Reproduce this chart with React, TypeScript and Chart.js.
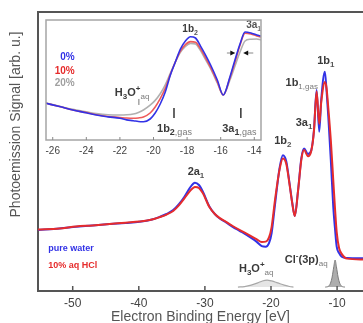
import React, { useEffect, useRef } from 'react';
import { Chart, registerables } from 'chart.js';

Chart.register(...registerables);

const FONT = '"Liberation Sans", Arial, Helvetica, sans-serif';
const BLUE = '#3232e6';
const RED = '#e62c2c';
const GRAY = '#a0a0a0';
const INK = '#3a3a3a';
const SOFT = '#7a7a7a';

// ---------- main spectrum ----------
const mainEnergy = [-55.25, -52, -49.5, -47, -44.4, -42, -39.9, -38, -36.8, -35.8, -34.8, -33.9, -33.1, -32.3, -31.5, -30.9, -30.3, -29.3, -28.5, -27.8, -26.8, -25.8, -24.7, -23.7, -22.2, -21.4, -20.8, -20.3, -19.9, -19.4, -18.7, -18.2, -17.7, -17.2, -16.8, -16.4, -15.9, -15.4, -15.0, -14.4, -13.9, -13.5, -13.1, -12.7, -12.4, -11.85, -11.6, -11.33, -10.95, -10.58, -10.3, -10.06, -9.7, -9.3, -8.5, -6.08];
const pureWater = [21.9, 22.4, 23.0, 23.5, 24.0, 24.4, 24.8, 25.6, 26.6, 27.6, 29.0, 31.2, 33.8, 36.9, 38.8, 38.0, 35.6, 30.2, 27.6, 26.1, 24.6, 23.0, 21.5, 20.1, 17.7, 16.1, 15.9, 17.2, 20.8, 30.8, 44.1, 48.7, 46.6, 38.7, 31.9, 26.9, 36.2, 47.7, 51.1, 49.1, 50.5, 57.7, 72.0, 57.1, 68.5, 78.6, 72.0, 62.5, 47.0, 30.2, 21.9, 15.9, 13.6, 12.3, 11.8, 11.7];
const hcl10 = [22.0, 22.4, 23.1, 23.5, 24.0, 24.5, 24.9, 25.6, 26.5, 27.4, 28.7, 30.8, 33.2, 35.7, 37.3, 36.9, 35.0, 30.0, 27.6, 26.2, 24.8, 23.3, 21.8, 20.6, 18.6, 17.6, 17.7, 19.2, 23.0, 32.5, 43.6, 47.5, 45.7, 38.3, 31.7, 26.9, 36.0, 47.2, 50.5, 48.3, 50.3, 57.3, 71.5, 59.9, 67.7, 74.9, 72.8, 65.6, 54.1, 39.8, 29.0, 21.1, 15.4, 13.3, 11.6, 11.3];
const h3oEnergy = [-25, -24, -23, -22, -21.3, -20.6, -19.9, -19, -18, -17.2, -16.6];
const h3oSignal = [1.4, 1.6, 2.1, 2.9, 3.6, 3.9, 3.6, 2.9, 2.1, 1.6, 1.4];
const clEnergy = [-11.8, -11.3, -11.0, -10.75, -10.5, -10.3, -10.1, -9.85, -9.6, -9.3, -8.8];
const clSignal = [1.4, 1.7, 2.8, 5.0, 8.7, 11.1, 8.7, 5.0, 2.8, 1.7, 1.4];
const peakBase = 1.4;
const mainTicks = [-50, -40, -30, -20, -10];
const mainRange = [-55.25, -6.08];

// ---------- inset ----------
const insetEnergy = [-26.4, -25.6, -24.8, -24.0, -23.4, -22.7, -22.0, -21.6, -21.2, -20.9, -20.6, -20.2, -19.9, -19.6, -19.3, -19.0, -18.7, -18.4, -18.1, -17.8, -17.5, -17.2, -16.9, -16.6, -16.2, -15.85, -15.45, -15.15, -14.85, -14.55, -14.2, -13.85, -13.6];
const inset0 = [30.6, 27.9, 25.0, 22.7, 20.8, 19.3, 18.1, 16.8, 16.1, 15.4, 15.25, 17.5, 22.5, 30.0, 40.0, 54.0, 65.0, 75.8, 82.5, 86.1, 85.0, 78.3, 70.8, 62.5, 50.0, 37.5, 52.5, 66.7, 80.0, 90.0, 89.2, 87.5, 86.7];
const inset10 = [30.6, 27.9, 25.0, 22.8, 21.0, 19.6, 18.8, 18.3, 18.1, 18.4, 19.2, 22.5, 27.5, 34.5, 43.0, 54.5, 65.0, 74.0, 79.5, 82.0, 81.5, 76.0, 68.5, 60.5, 48.5, 37.5, 51.7, 65.0, 79.0, 89.0, 88.3, 86.7, 85.8];
const inset20 = [30.8, 28.2, 25.5, 23.5, 22.0, 21.0, 20.8, 21.0, 21.7, 23.0, 25.0, 29.0, 33.0, 38.5, 46.0, 55.5, 65.0, 73.0, 78.0, 80.5, 80.0, 74.5, 67.0, 59.5, 47.5, 37.5, 50.0, 61.7, 73.3, 82.5, 84.0, 84.2, 83.3];
const insetTicks = [-26, -24, -22, -20, -18, -16, -14];
const insetRange = [-26.4, -13.6];
const gasLines = [-18.78, -14.8];

type Seg = { t: string; size: number; bold?: boolean; color?: string; dy?: number };
type Note = { e: number; v: number; align: 'left' | 'center' | 'right'; segs: Seg[] };

const B = (t: string, size = 11, color = INK): Seg => ({ t, size, bold: true, color });
const SUB = (t: string, color = '#555', size = 8, bold = true): Seg => ({ t, size, bold, color, dy: 3 });
const SUP = (t: string, color = INK): Seg => ({ t, size: 8, bold: true, color, dy: -5 });

const mainNotes: Note[] = [
  { e: -31.35, v: 41.6, align: 'center', segs: [B('2a'), SUB('1')] },
  { e: -18.2, v: 52.7, align: 'center', segs: [B('1b'), SUB('2')] },
  { e: -15.0, v: 59.2, align: 'center', segs: [B('3a'), SUB('1')] },
  { e: -12.9, v: 73.6, align: 'right', segs: [B('1b'), SUB('1,gas', SOFT, 8, false)] },
  { e: -11.7, v: 81.4, align: 'center', segs: [B('1b'), SUB('1')] },
  { e: -53.7, v: 14.3, align: 'left', segs: [{ t: 'pure water', size: 9, bold: true, color: BLUE }] },
  { e: -53.7, v: 8.2, align: 'left', segs: [{ t: '10% aq HCl', size: 9, bold: true, color: RED }] },
  { e: -24.85, v: 6.8, align: 'left', segs: [B('H'), SUB('3', INK), B('O'), SUP('+'), SUB('aq', SOFT, 8, false)] },
  { e: -17.9, v: 10.0, align: 'left', segs: [B('Cl'), SUP('-'), B('(3p)'), SUB('aq', SOFT, 8, false)] },
];

const insetNotes: Note[] = [
  { e: -17.82, v: 90.4, align: 'center', segs: [B('1b', 10), SUB('2', '#555', 7)] },
  { e: -24.69, v: 66.3, align: 'right', segs: [{ t: '0%', size: 10, bold: true, color: BLUE }] },
  { e: -24.69, v: 55.4, align: 'right', segs: [{ t: '10%', size: 10, bold: true, color: RED }] },
  { e: -24.69, v: 45.4, align: 'right', segs: [{ t: '20%', size: 10, bold: true, color: GRAY }] },
  { e: -22.3, v: 36.7, align: 'left', segs: [B('H'), SUB('3', INK), B('O'), SUP('+'), SUB('aq', SOFT, 8, false)] },
  { e: -19.79, v: 6.7, align: 'left', segs: [B('1b'), SUB('2', INK, 9), SUB(',gas', SOFT, 9, false)] },
  { e: -15.91, v: 6.7, align: 'left', segs: [B('3a'), SUB('1', INK, 9), SUB(',gas', SOFT, 9, false)] },
];
const insetClippedNote: Note = { e: -14.48, v: 93.3, align: 'left', segs: [B('3a', 10, '#555'), SUB('1', '#777', 7)] };

const pts = (xs: number[], ys: number[]) => xs.map((x, i) => ({ x, y: ys[i] }));

function drawRich(ctx: CanvasRenderingContext2D, x: number, y: number, segs: Seg[], align: string) {
  const fontOf = (s: Seg) => `${s.bold ? 'bold ' : ''}${s.size}px ${FONT}`;
  const widths = segs.map((s) => {
    ctx.font = fontOf(s);
    return ctx.measureText(s.t).width;
  });
  const total = widths.reduce((a, b) => a + b, 0);
  let cx = align === 'left' ? x : align === 'center' ? x - total / 2 : x - total;
  ctx.textAlign = 'left';
  ctx.textBaseline = 'alphabetic';
  segs.forEach((s, i) => {
    ctx.font = fontOf(s);
    ctx.fillStyle = s.color || INK;
    ctx.fillText(s.t, cx, y + (s.dy || 0));
    cx += widths[i];
  });
}

function drawNotes(chart: any, notes: Note[]) {
  const { ctx, scales } = chart;
  notes.forEach((n) => {
    drawRich(ctx, scales.x.getPixelForValue(n.e), scales.y.getPixelForValue(n.v), n.segs, n.align);
  });
}

const mainDecor = {
  id: 'mainDecor',
  afterDatasetsDraw(chart: any) {
    const ctx = chart.ctx;
    ctx.save();
    drawNotes(chart, mainNotes);
    ctx.restore();
  },
  afterDraw(chart: any) {
    const { ctx, chartArea: a, scales } = chart;
    ctx.save();
    ctx.strokeStyle = '#555';
    ctx.lineWidth = 2;
    ctx.beginPath();
    ctx.moveTo(a.left - 1, a.top);
    ctx.lineTo(a.right, a.top);
    ctx.stroke();
    ctx.lineWidth = 1.5;
    scales.x.ticks.forEach((t: any) => {
      const px = scales.x.getPixelForValue(t.value);
      ctx.beginPath();
      ctx.moveTo(px, a.bottom);
      ctx.lineTo(px, a.bottom - 5);
      ctx.stroke();
    });
    ctx.translate(16, a.top + 112.5);
    ctx.rotate(-Math.PI / 2);
    ctx.font = `14px ${FONT}`;
    ctx.fillStyle = '#555';
    ctx.textAlign = 'center';
    ctx.textBaseline = 'middle';
    ctx.fillText('Photoemission Signal [arb. u.]', 0, 0);
    ctx.restore();
  },
};

function arrow(ctx: CanvasRenderingContext2D, x1: number, x2: number, y: number) {
  const dir = Math.sign(x2 - x1);
  ctx.strokeStyle = '#888';
  ctx.lineWidth = 1;
  ctx.beginPath();
  ctx.moveTo(x1, y);
  ctx.lineTo(x2 - dir * 3, y);
  ctx.stroke();
  ctx.fillStyle = '#111';
  ctx.beginPath();
  ctx.moveTo(x2, y);
  ctx.lineTo(x2 - dir * 5, y - 2.5);
  ctx.lineTo(x2 - dir * 5, y + 2.5);
  ctx.closePath();
  ctx.fill();
}

const insetDecor = {
  id: 'insetDecor',
  beforeDraw(chart: any) {
    const { ctx, chartArea: a } = chart;
    ctx.save();
    ctx.fillStyle = '#fff';
    ctx.fillRect(a.left, a.top, a.right - a.left, a.bottom - a.top);
    ctx.restore();
  },
  afterDatasetsDraw(chart: any) {
    const { ctx, chartArea: a, scales } = chart;
    const X = (e: number) => scales.x.getPixelForValue(e);
    const Y = (v: number) => scales.y.getPixelForValue(v);
    ctx.save();
    drawNotes(chart, insetNotes);
    ctx.strokeStyle = '#777';
    ctx.lineWidth = 1;
    ctx.beginPath();
    ctx.moveTo(X(-20.87), Y(34.2));
    ctx.lineTo(X(-20.87), Y(29.2));
    ctx.stroke();
    ctx.strokeStyle = '#333';
    ctx.lineWidth = 1.5;
    gasLines.forEach((e) => {
      ctx.beginPath();
      ctx.moveTo(X(e), Y(26.7));
      ctx.lineTo(X(e), Y(18.3));
      ctx.stroke();
    });
    arrow(ctx, X(-15.63), X(-15.13), Y(72.5));
    arrow(ctx, X(-14.06), X(-14.66), Y(72.5));
    ctx.beginPath();
    ctx.rect(a.left, a.top, a.right - a.left, a.bottom - a.top);
    ctx.clip();
    drawNotes(chart, [insetClippedNote]);
    ctx.restore();
  },
  afterDraw(chart: any) {
    const { ctx, chartArea: a, scales } = chart;
    ctx.save();
    ctx.strokeStyle = '#a5a5a5';
    ctx.lineWidth = 1.5;
    ctx.strokeRect(a.left, a.top, a.right - a.left, a.bottom - a.top);
    ctx.strokeStyle = '#888';
    ctx.lineWidth = 1;
    scales.x.ticks.forEach((t: any) => {
      const px = scales.x.getPixelForValue(t.value);
      ctx.beginPath();
      ctx.moveTo(px, a.bottom);
      ctx.lineTo(px, a.bottom - 3);
      ctx.stroke();
    });
    ctx.restore();
  },
};

const lineDs = (label: string, data: any[], color: string, width: number, order: number) => ({
  label,
  data,
  borderColor: color,
  backgroundColor: color,
  borderWidth: width,
  pointRadius: 0,
  fill: false,
  cubicInterpolationMode: 'monotone' as const,
  order,
});

export default function App() {
  const mainRef = useRef<HTMLCanvasElement>(null);
  const insetRef = useRef<HTMLCanvasElement>(null);

  useEffect(() => {
    const main = new Chart(mainRef.current as HTMLCanvasElement, {
      type: 'line',
      data: {
        datasets: [
          lineDs('10% aq HCl', pts(mainEnergy, hcl10), RED, 2, 1),
          lineDs('pure water', pts(mainEnergy, pureWater), BLUE, 2, 2),
          {
            ...lineDs('H3O+ (aq)', pts(h3oEnergy, h3oSignal), '#a8a8a8', 1.2, 3),
            backgroundColor: 'rgba(170,170,170,0.3)',
            fill: { value: peakBase },
          },
          {
            ...lineDs('Cl- (3p)', pts(clEnergy, clSignal), '#7c7c7c', 1, 3),
            backgroundColor: '#adadad',
            fill: { value: peakBase },
          },
        ],
      },
      options: {
        animation: false,
        responsive: false,
        maintainAspectRatio: false,
        layout: { padding: { left: 0, right: 0, top: 12, bottom: 0 } },
        plugins: { legend: { display: false }, tooltip: { enabled: false } },
        scales: {
          x: {
            type: 'linear',
            min: mainRange[0],
            max: mainRange[1],
            grid: { display: false, drawTicks: false },
            border: { display: true, color: '#555', width: 2 },
            ticks: { font: { size: 12, family: FONT }, color: '#444', padding: 5 },
            afterBuildTicks: (s: any) => {
              s.ticks = mainTicks.map((value) => ({ value }));
            },
            afterFit: (s: any) => {
              s.height = 32;
            },
            title: {
              display: true,
              text: 'Electron Binding Energy [eV]',
              font: { size: 14, family: FONT, lineHeight: 1 },
              color: '#555',
              padding: { top: 0, bottom: -1 },
            },
          },
          y: {
            type: 'linear',
            min: 0,
            max: 100,
            ticks: { display: false },
            grid: { display: false, drawTicks: false },
            border: { display: true, color: '#555', width: 2 },
            afterFit: (s: any) => {
              s.width = 38;
            },
          },
        },
      } as any,
      plugins: [mainDecor],
    });

    const inset = new Chart(insetRef.current as HTMLCanvasElement, {
      type: 'line',
      data: {
        datasets: [
          lineDs('0%', pts(insetEnergy, inset0), BLUE, 1.6, 1),
          lineDs('10%', pts(insetEnergy, inset10), '#ee5a5a', 1.6, 2),
          lineDs('20%', pts(insetEnergy, inset20), '#b0b0b0', 1.6, 3),
        ],
      },
      options: {
        animation: false,
        responsive: false,
        maintainAspectRatio: false,
        layout: { padding: { left: 10, right: 7, top: 6, bottom: 0 } },
        plugins: { legend: { display: false }, tooltip: { enabled: false } },
        scales: {
          x: {
            type: 'linear',
            min: insetRange[0],
            max: insetRange[1],
            grid: { display: false, drawTicks: false },
            border: { display: false },
            ticks: { font: { size: 10, family: FONT }, color: '#444', padding: 5 },
            afterBuildTicks: (s: any) => {
              s.ticks = insetTicks.map((value) => ({ value }));
            },
            afterFit: (s: any) => {
              s.height = 20;
            },
          },
          y: { type: 'linear', display: false, min: 0, max: 100 },
        },
      } as any,
      plugins: [insetDecor],
    });

    return () => {
      main.destroy();
      inset.destroy();
    };
  }, []);

  return (
    <div style={{ position: 'absolute', left: 0, top: 0, width: 363, height: 323, background: '#fff', overflow: 'hidden' }}>
      <canvas ref={mainRef} width={363} height={323} style={{ position: 'absolute', left: 0, top: 0, width: 363, height: 323 }} />
      <canvas ref={insetRef} width={232} height={146} style={{ position: 'absolute', left: 36, top: 14, width: 232, height: 146 }} />
    </div>
  );
}
